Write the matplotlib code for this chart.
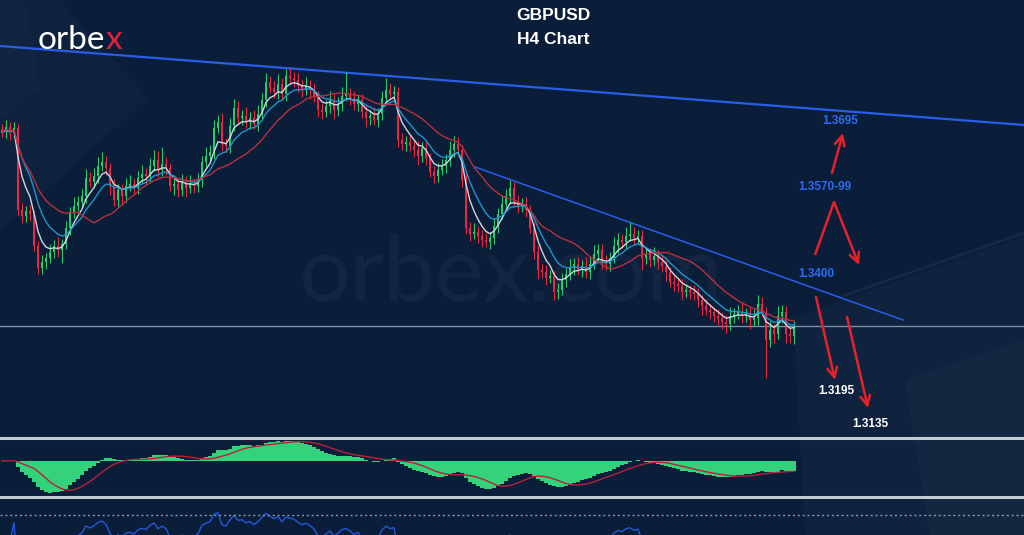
import numpy as np
import pandas as pd
import matplotlib
matplotlib.use('Agg')
import matplotlib.pyplot as plt
from matplotlib.patches import Polygon

# GBPUSD H4 candles, closes in pips (price * 10000)
close_pips = [
    13684, 13694, 13682, 13692, 13528, 13516, 13526, 13520, 13456, 13412,
    13424, 13432, 13444, 13456, 13448, 13460, 13492, 13524, 13536, 13544,
    13556, 13592, 13584, 13596, 13616, 13624, 13612, 13576, 13548, 13568,
    13556, 13576, 13580, 13572, 13592, 13600, 13596, 13616, 13628, 13608,
    13620, 13612, 13576, 13580, 13568, 13584, 13572, 13580, 13576, 13588,
    13624, 13636, 13644, 13692, 13704, 13660, 13656, 13696, 13732, 13712,
    13716, 13704, 13712, 13700, 13720, 13748, 13784, 13772, 13764, 13780,
    13760, 13796, 13792, 13788, 13776, 13768, 13776, 13768, 13756, 13728,
    13724, 13736, 13748, 13728, 13740, 13756, 13760, 13752, 13740, 13748,
    13724, 13712, 13716, 13708, 13720, 13752, 13768, 13760, 13764, 13668,
    13660, 13664, 13656, 13648, 13636, 13652, 13632, 13604, 13596, 13608,
    13616, 13628, 13648, 13660, 13648, 13588, 13492, 13480, 13484, 13476,
    13468, 13464, 13472, 13496, 13520, 13540, 13556, 13572, 13544, 13536,
    13540, 13528, 13492, 13444, 13408, 13404, 13392, 13396, 13364, 13368,
    13388, 13400, 13412, 13420, 13408, 13416, 13404, 13420, 13440, 13448,
    13424, 13420, 13432, 13456, 13468, 13464, 13476, 13480, 13472, 13476,
    13432, 13440, 13428, 13436, 13424, 13416, 13404, 13384, 13380, 13376,
    13364, 13368, 13364, 13360, 13348, 13336, 13328, 13324, 13316, 13312,
    13304, 13300, 13316, 13320, 13324, 13316, 13320, 13308, 13312, 13340,
    13324, 13268, 13288, 13280, 13316, 13324, 13280, 13276, 13296,
]
first_open_pips = 13690

# wick lengths beyond the body, in pips
wick_up = [
    10, 14, 10, 12, 8, 14, 10, 12, 6, 10,
    14, 10, 16, 12, 18, 10, 14, 10, 18, 12,
    14, 18, 12, 16, 18, 20, 12, 10, 14, 12,
    12, 16, 18, 12, 14, 18, 12, 16, 20, 18,
    34, 14, 10, 18, 12, 16, 12, 18, 10, 14,
    12, 18, 14, 16, 14, 18, 12, 16, 18, 14,
    12, 18, 12, 16, 18, 14, 18, 12, 14, 20,
    12, 14, 16, 12, 14, 12, 18, 12, 14, 10,
    14, 12, 18, 12, 14, 18, 44, 12, 14, 12,
    12, 14, 12, 18, 12, 14, 24, 14, 12, 10,
    14, 12, 14, 10, 18, 12, 14, 10, 12, 14,
    14, 12, 18, 16, 14, 10, 14, 12, 18, 12,
    12, 14, 12, 16, 12, 18, 14, 16, 12, 14,
    12, 14, 10, 10, 14, 12, 14, 12, 10, 14,
    14, 12, 18, 12, 14, 12, 18, 14, 18, 12,
    12, 14, 12, 18, 14, 12, 18, 24, 14, 12,
    12, 14, 12, 18, 12, 14, 12, 10, 14, 12,
    14, 12, 10, 14, 12, 10, 14, 12, 10, 14,
    12, 14, 18, 12, 14, 18, 12, 14, 18, 18,
    14, 10, 18, 12, 20, 14, 12, 14, 10,
]
wick_dn = [
    10, 12, 14, 10, 10, 14, 12, 14, 10, 12,
    12, 14, 10, 12, 14, 26, 10, 14, 12, 10,
    12, 14, 10, 12, 14, 10, 14, 18, 12, 14,
    14, 12, 10, 14, 12, 10, 18, 12, 10, 14,
    12, 14, 10, 18, 14, 12, 18, 10, 14, 12,
    14, 10, 12, 14, 10, 14, 12, 14, 10, 14,
    14, 12, 14, 10, 14, 12, 14, 10, 12, 14,
    12, 14, 10, 14, 12, 14, 10, 18, 12, 14,
    14, 10, 14, 18, 12, 14, 10, 14, 12, 14,
    12, 18, 14, 10, 14, 12, 14, 10, 12, 14,
    12, 14, 10, 14, 18, 12, 14, 10, 14, 12,
    10, 14, 12, 14, 10, 14, 12, 14, 10, 14,
    14, 10, 14, 12, 14, 10, 12, 14, 10, 14,
    12, 14, 10, 14, 18, 12, 14, 10, 16, 14,
    10, 14, 12, 14, 10, 14, 12, 14, 10, 14,
    14, 12, 14, 10, 14, 12, 14, 10, 14, 12,
    24, 12, 14, 10, 14, 12, 18, 10, 14, 12,
    14, 10, 14, 12, 14, 18, 10, 14, 12, 14,
    14, 18, 12, 14, 10, 14, 12, 18, 12, 14,
    10, 76, 14, 18, 10, 14, 18, 14, 16,
]

# drawn trendlines and level (candle index, price)
trend_top_x = [-0.5, 255.5]
trend_top_y = [1.3856, 1.3698]
trend_low_x = [118.25, 225.25]
trend_low_y = [1.3614, 1.3308]
support_level = 1.3296

# target labels: text, candle index, price, colour
level_labels = [
    ('1.3695', 209.5, 1.3706, '#2f6bf0'),
    ('1.3570-99', 205.75, 1.3574, '#2f6bf0'),
    ('1.3400', 203.5, 1.3400, '#2f6bf0'),
    ('1.3195', 208.5, 1.3166, 'white'),
    ('1.3135', 217.0, 1.3100, 'white'),
]
# scenario arrows: (start index, start price, end index, end price)
arrows = [
    (207.5, 1.3602, 210.25, 1.3682),
    (208.0, 1.3544, 214.25, 1.3418),
    (203.5, 1.3354, 208.25, 1.3188),
    (211.25, 1.3314, 216.5, 1.3132),
]
apex_leg = (203.25, 1.3438, 208.0, 1.3544)

BG = '#0a1e3a'
GREEN = '#2ec866'
RED = '#e8283c'
ARROW_RED = '#e8202a'

closes = np.array(close_pips) / 10000
opens = np.concatenate([[first_open_pips / 10000], closes[:-1]])
highs = np.maximum(opens, closes) + np.array(wick_up) / 10000
lows = np.minimum(opens, closes) - np.array(wick_dn) / 10000
idx = np.arange(len(closes))
s = pd.Series(closes)

fig = plt.figure(figsize=(10.24, 5.35), dpi=100)
fig.patch.set_facecolor(BG)

# background decoration, pixel coords
bg = fig.add_axes([0, 0, 1, 1])
bg.set_xlim(0, 1024)
bg.set_ylim(535, 0)
bg.axis('off')
bg.set_zorder(-1)
bg.add_patch(Polygon([(0, 0), (60, 0), (148, 98), (0, 232)], closed=True,
                     facecolor='white', alpha=0.018, edgecolor='none'))
bg.add_patch(Polygon([(0, 0), (25, 0), (40, 88), (0, 120)], closed=True,
                     facecolor='white', alpha=0.015, edgecolor='none'))
bg.add_patch(Polygon([(793, 318), (1024, 236), (1024, 535), (805, 535)], closed=True,
                     facecolor='white', alpha=0.022, edgecolor='none'))
bg.add_patch(Polygon([(905, 380), (1024, 340), (1024, 535), (930, 535)], closed=True,
                     facecolor='white', alpha=0.018, edgecolor='none'))
bg.plot([840, 1024], [297, 233], color='white', alpha=0.05, lw=2)
bg.text(510, 275, 'orbex.com', fontsize=66, family='Lato',
        color='white', alpha=0.04, ha='center', va='center')
for ypx in (438, 497):
    bg.axhline(ypx, color='#c4cad4', lw=2.2)

# price panel
ax = fig.add_axes([0, 98 / 535, 1, 437 / 535])
ax.set_facecolor('none')
ax.set_xlim(-0.5, 255.5)
ax.set_ylim(1.3074, 1.3948)
ax.axis('off')

ax.axhline(support_level, color='#7f8ea4', lw=1)
ax.plot(trend_top_x, trend_top_y, color='#2a5ee8', lw=1.6)
ax.plot(trend_low_x, trend_low_y, color='#2a5ee8', lw=1.1)

col = np.where(closes >= opens, GREEN, RED)
ax.vlines(idx, lows, highs, colors=col, lw=0.8)
ax.bar(idx, np.maximum(np.abs(closes - opens), 0.00015),
       bottom=np.minimum(opens, closes), width=0.72, color=col)

ax.plot(idx, s.ewm(span=5, adjust=False).mean(), color='#d0d6e0', lw=1)
ax.plot(idx, s.ewm(span=10, adjust=False).mean(), color='#1f95cc', lw=1)
ax.plot(idx, s.rolling(20, min_periods=1).mean(), color='#b83040', lw=1)

for txt, x, y, c in level_labels:
    ax.text(x, y, txt, color=c, fontsize=8.5, fontweight='bold',
            family='Liberation Sans', ha='center', va='center')

ax.plot([apex_leg[0], apex_leg[2]], [apex_leg[1], apex_leg[3]],
        color=ARROW_RED, lw=1.8, solid_capstyle='butt')
for x0, y0, x1, y1 in arrows:
    ax.annotate('', xy=(x1, y1), xytext=(x0, y0),
                arrowprops=dict(arrowstyle='->,head_length=0.7,head_width=0.35',
                                color=ARROW_RED, lw=1.8, shrinkA=0, shrinkB=0))

# MACD panel
ax2 = fig.add_axes([0, 39 / 535, 1, 58 / 535])
ax2.set_facecolor('none')
ax2.set_xlim(-0.5, 255.5)
ax2.axis('off')
macd = s.ewm(span=12, adjust=False).mean() - s.ewm(span=26, adjust=False).mean()
signal = macd.rolling(9, min_periods=1).mean()
ax2.bar(idx, macd, width=0.8, color='#34d27a')
ax2.plot(idx, signal, color='#b8203c', lw=1)
lo = min(macd.min(), signal.min()) * 1.1
ax2.set_ylim(lo, -lo * 23 / 35)

# RSI panel (cut off at the bottom)
ax3 = fig.add_axes([0, 0, 1, 37 / 535])
ax3.set_facecolor('none')
ax3.set_xlim(-0.5, 255.5)
ax3.axis('off')
delta = s.diff().fillna(0)
gain = delta.clip(lower=0).ewm(alpha=1 / 14, adjust=False).mean()
loss = (-delta.clip(upper=0)).ewm(alpha=1 / 14, adjust=False).mean()
rsi = 100 - 100 / (1 + gain / loss.replace(0, np.nan))
ax3.plot(idx, rsi, color='#2458d8', lw=1)
ax3.axhline(70, color='#8a98b0', lw=1, ls=(0, (1.5, 2)))
ax3.set_ylim(50, 87)

# logo and title
logo = fig.text(38 / 1024, 1 - 55 / 535, 'orbe', fontsize=24, family='Lato',
                color='white', ha='left', va='bottom')
ax3.annotate('x', xy=(1, 0), xycoords=logo, fontsize=24, family='Lato',
             color='#e8203a', ha='left', va='bottom', annotation_clip=False)
fig.text(553 / 1024, 1 - 15 / 535, 'GBPUSD', fontsize=12.5, fontweight='bold',
         family='Liberation Sans', color='white', ha='center', va='center')
fig.text(553 / 1024, 1 - 39 / 535, 'H4 Chart', fontsize=12.5, fontweight='bold',
         family='Liberation Sans', color='white', ha='center', va='center')

fig.savefig('out.png', dpi=100, facecolor=BG)
